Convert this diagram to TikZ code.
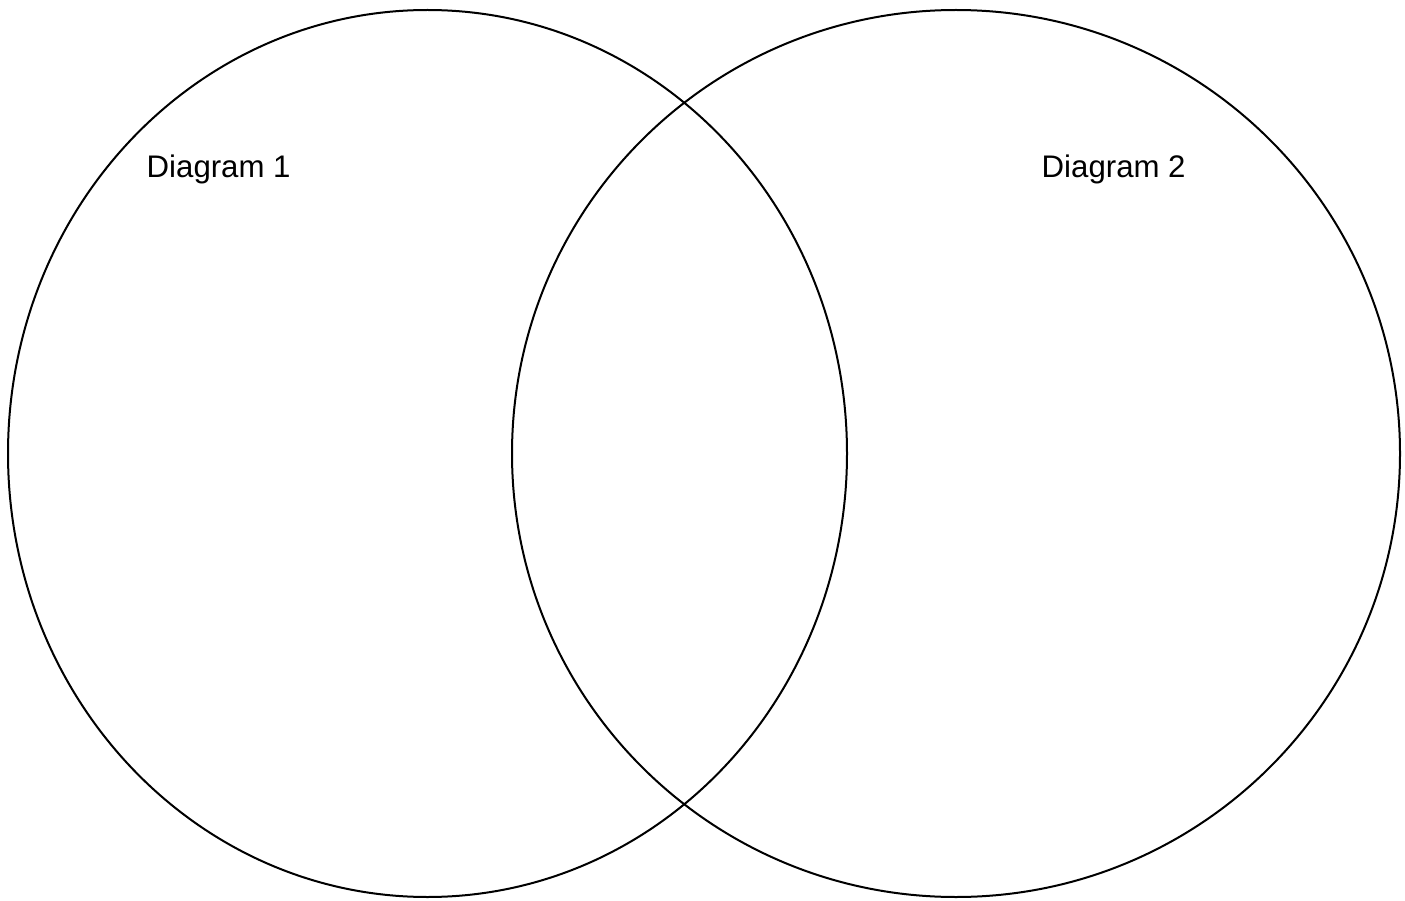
\documentclass[tikz,border=0pt]{standalone}
\usepackage{fontspec}
\setmainfont{Liberation Sans}
\begin{document}
\begin{tikzpicture}[x=1pt,y=-1pt,
  venn/.style={draw=black,line width=2pt},
  lbl/.style={inner sep=0pt,anchor=base west,font=\fontsize{31.2}{36}\selectfont}]
\useasboundingbox (0,0) rectangle (1405,901);
\draw[venn] (427.5,453.5) ellipse [x radius=419.5, y radius=443.5];
\draw[venn] (956,453.5) ellipse [x radius=444, y radius=443.5];
\node[lbl] (d1) at (146.5,177.5) {Diagram 1};
\node[lbl] (d2) at (1041.5,177.5) {Diagram 2};
\end{tikzpicture}
\end{document}
